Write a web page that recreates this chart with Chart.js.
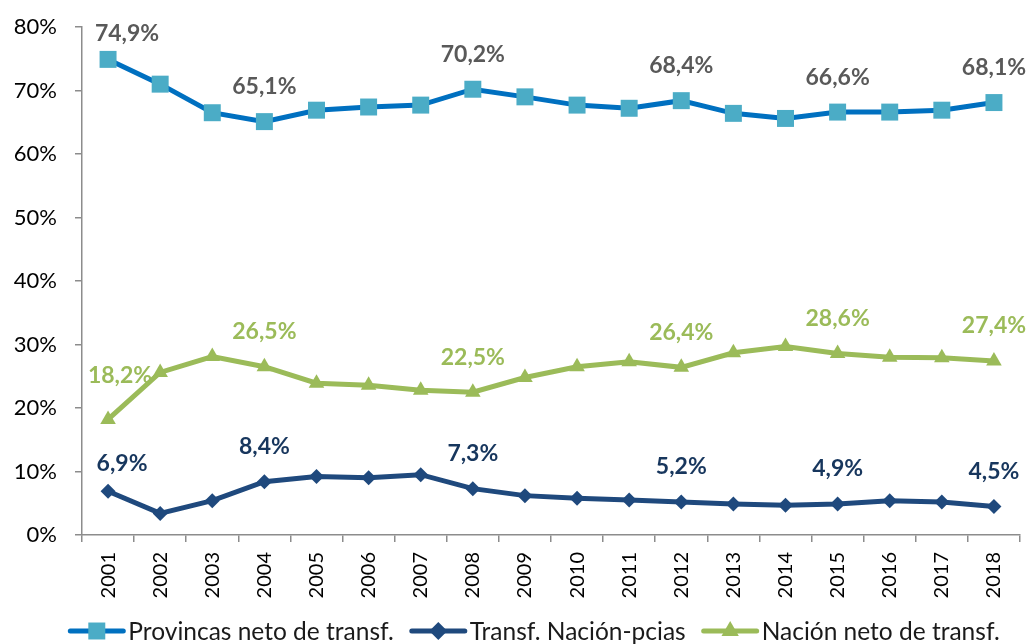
<!DOCTYPE html>
<html lang="es">
<head>
<meta charset="UTF-8">
<title>Provincias / Nación</title>
<script src="https://cdn.jsdelivr.net/npm/chart.js"></script>
<style>
  body { margin: 0; background: #fff; }
  #wrap { width: 1032px; height: 644px; }
</style>
</head>
<body>
<div id="wrap"><canvas id="myChart"></canvas></div>

<script>
// datos
const anios = ['2001','2002','2003','2004','2005','2006','2007','2008','2009',
               '2010','2011','2012','2013','2014','2015','2016','2017','2018'];
const provincias = [74.9, 71.0, 66.5, 65.1, 66.9, 67.4, 67.7, 70.2, 69.0,
                    67.7, 67.2, 68.4, 66.4, 65.6, 66.6, 66.6, 66.9, 68.1];
const transf = [6.9, 3.4, 5.4, 8.4, 9.2, 9.0, 9.5, 7.3, 6.2,
                5.8, 5.5, 5.2, 4.9, 4.7, 4.9, 5.4, 5.2, 4.5];
const nacion = [18.2, 25.6, 28.1, 26.5, 23.9, 23.6, 22.8, 22.5, 24.8,
                26.5, 27.3, 26.4, 28.7, 29.7, 28.6, 28.0, 27.9, 27.4];
const conEtiqueta = [0, 3, 7, 11, 14, 17];   // años con etiqueta de valor
const yTicks = [0, 10, 20, 30, 40, 50, 60, 70, 80];

const FONT = 'Lato';
const fmt = v => v.toFixed(1).replace('.', ',') + '%';

// etiquetas de datos (sin plugin externo)
const etiquetas = {
    id: 'etiquetas',
    afterDatasetsDraw(chart) {
        const ctx = chart.ctx;
        ctx.save();
        ctx.font = 'bold 23px ' + FONT;
        ctx.textAlign = 'center';
        ctx.textBaseline = 'middle';
        chart.data.datasets.forEach((ds, i) => {
            const meta = chart.getDatasetMeta(i);
            ctx.fillStyle = ds.labelColor;
            conEtiqueta.forEach(idx => {
                const p = meta.data[idx];
                let dx = 0, dy = -35;
                if (idx === 0) { dx = ds.firstNudge[0]; dy = ds.firstNudge[1]; }
                let y = Math.max(p.y + dy, chart.chartArea.top + 6);
                ctx.fillText(fmt(ds.data[idx]), p.x + dx, y);
            });
        });
        ctx.restore();
    }
};

// leyenda abajo: linea + marcador + texto
const leyenda = {
    id: 'leyenda',
    afterDraw(chart) {
        const ctx = chart.ctx;
        const lineW = 57, gap = 3, sep = 16;
        const y = chart.height - 13;
        ctx.save();
        ctx.font = '24.5px ' + FONT;
        const items = chart.data.datasets.map(ds => ({ ds, w: lineW + gap + ctx.measureText(ds.label).width }));
        const total = items.reduce((a, it) => a + it.w, 0) + sep * (items.length - 1);
        let x = 534 - total / 2;
        items.forEach(({ ds, w }) => {
            ctx.strokeStyle = ds.borderColor;
            ctx.lineWidth = 5;
            ctx.lineCap = 'round';
            ctx.beginPath(); ctx.moveTo(x + 2, y); ctx.lineTo(x + lineW - 2, y); ctx.stroke();
            ctx.fillStyle = ds.pointBackgroundColor;
            Chart.helpers.drawPoint(ctx, { pointStyle: ds.pointStyle, radius: ds.legendRadius, borderWidth: 0, rotation: 0 }, x + lineW / 2, y);
            ctx.fillStyle = '#1a1a1a';
            ctx.textAlign = 'left';
            ctx.textBaseline = 'middle';
            ctx.fillText(ds.label, x + lineW + gap, y + 1);
            x += w + sep;
        });
        ctx.restore();
    }
};

const ejeColor = '#8C8C8C';

new Chart(document.getElementById('myChart'), {
    type: 'line',
    data: {
        labels: anios,
        datasets: [{
            label: 'Provincas neto de transf.',
            data: provincias,
            borderColor: '#0070C0',
            backgroundColor: '#4BACC6',
            borderWidth: 5,
            pointStyle: 'rect',
            pointRadius: 12,
            pointBorderWidth: 0,
            pointBackgroundColor: '#4BACC6',
            labelColor: '#595959',
            firstNudge: [19, -26],
            legendRadius: 12
        }, {
            label: 'Transf. Nación-pcias',
            data: transf,
            borderColor: '#1F497D',
            backgroundColor: '#1F497D',
            borderWidth: 5,
            pointStyle: 'rectRot',
            pointRadius: 7.5,
            pointBorderWidth: 0,
            pointBackgroundColor: '#1F497D',
            labelColor: '#17365D',
            firstNudge: [14, -28],
            legendRadius: 9
        }, {
            label: 'Nación neto de transf.',
            data: nacion,
            borderColor: '#9BBB59',
            backgroundColor: '#9BBB59',
            borderWidth: 5,
            pointStyle: 'triangle',
            pointRadius: 9,
            pointBorderWidth: 0,
            pointBackgroundColor: '#9BBB59',
            labelColor: '#9BBB59',
            firstNudge: [12, -44],
            legendRadius: 10
        }]
    },
    options: {
        responsive: true,
        maintainAspectRatio: false,
        animation: false,
        layout: { padding: { top: 27, right: 9, left: 0, bottom: 24 } },
        scales: {
            x: {
                offset: true,
                grid: { offset: true, drawOnChartArea: false, drawTicks: true, tickLength: 7, color: ejeColor, lineWidth: 1.5 },
                border: { color: ejeColor, width: 1.5 },
                ticks: { minRotation: 90, maxRotation: 90, padding: 10, color: '#000', font: { family: FONT, size: 20 } },
                afterFit: s => { s.height = 85; }
            },
            y: {
                min: 0, max: 80,
                afterBuildTicks: s => { s.ticks = yTicks.map(v => ({ value: v })); },
                grid: { drawOnChartArea: false, drawTicks: true, tickLength: 7, color: ejeColor, lineWidth: 1.5 },
                border: { color: ejeColor, width: 1.5 },
                ticks: { padding: 18, color: '#000', font: { family: FONT, size: 22 }, callback: v => v + '%' },
                afterFit: s => { s.width = 82; s.paddingTop = 4; s.paddingBottom = 4; }
            }
        },
        plugins: {
            tooltip: { enabled: false },
            legend: { display: false }
        }
    },
    plugins: [etiquetas, leyenda]
});
</script>
</body>
</html>
